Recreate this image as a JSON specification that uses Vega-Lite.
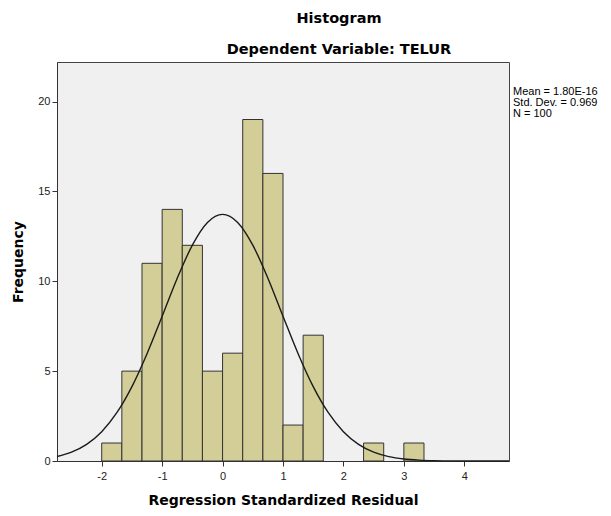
{
  "$schema": "https://vega.github.io/schema/vega-lite/v6.json",
  "width": 452,
  "height": 399,
  "autosize": "none",
  "padding": {"left": 57, "top": 62, "right": 102, "bottom": 55},
  "background": "white",
  "config": {
    "font": "Liberation Sans",
    "view": {"fill": "#f0f0f0", "stroke": "#444444", "strokeWidth": 1}
  },
  "title": {
    "text": ["Histogram", "Dependent Variable: TELUR"],
    "fontSize": 14.5,
    "fontWeight": "bold",
    "lineHeight": 31,
    "dx": 56,
    "offset": 4.5,
    "color": "#000000",
    "font": "DejaVu Sans"
  },
  "datasets": {
    "bars": [
      {"bin_start": -2.0, "bin_end": -1.6667, "count": 1},
      {"bin_start": -1.6667, "bin_end": -1.3333, "count": 5},
      {"bin_start": -1.3333, "bin_end": -1.0, "count": 11},
      {"bin_start": -1.0, "bin_end": -0.6667, "count": 14},
      {"bin_start": -0.6667, "bin_end": -0.3333, "count": 12},
      {"bin_start": -0.3333, "bin_end": 0.0, "count": 5},
      {"bin_start": 0.0, "bin_end": 0.3333, "count": 6},
      {"bin_start": 0.3333, "bin_end": 0.6667, "count": 19},
      {"bin_start": 0.6667, "bin_end": 1.0, "count": 16},
      {"bin_start": 1.0, "bin_end": 1.3333, "count": 2},
      {"bin_start": 1.3333, "bin_end": 1.6667, "count": 7},
      {"bin_start": 2.3333, "bin_end": 2.6667, "count": 1},
      {"bin_start": 3.0, "bin_end": 3.3333, "count": 1}
    ],
    "curve": [
      {"x": -2.74, "y": 0.252},
      {"x": -2.5, "y": 0.492},
      {"x": -2.25, "y": 0.926},
      {"x": -2.0, "y": 1.631},
      {"x": -1.75, "y": 2.686},
      {"x": -1.5, "y": 4.140},
      {"x": -1.25, "y": 5.971},
      {"x": -1.0, "y": 8.056},
      {"x": -0.75, "y": 10.169},
      {"x": -0.5, "y": 12.010},
      {"x": -0.25, "y": 13.271},
      {"x": 0.0, "y": 13.72},
      {"x": 0.25, "y": 13.271},
      {"x": 0.5, "y": 12.010},
      {"x": 0.75, "y": 10.169},
      {"x": 1.0, "y": 8.056},
      {"x": 1.25, "y": 5.971},
      {"x": 1.5, "y": 4.140},
      {"x": 1.75, "y": 2.686},
      {"x": 2.0, "y": 1.631},
      {"x": 2.25, "y": 0.926},
      {"x": 2.5, "y": 0.492},
      {"x": 2.75, "y": 0.245},
      {"x": 3.0, "y": 0.114},
      {"x": 3.25, "y": 0.050},
      {"x": 3.5, "y": 0.020},
      {"x": 3.75, "y": 0.008},
      {"x": 4.0, "y": 0.003},
      {"x": 4.25, "y": 0.001},
      {"x": 4.5, "y": 0.0003},
      {"x": 4.74, "y": 0.0001}
    ],
    "stats": [
      {"label": "Mean = 1.80E-16\nStd. Dev. = 0.969\nN = 100", "px": 4.74, "py": 20.55}
    ]
  },
  "layer": [
    {
      "data": {"name": "bars"},
      "mark": {"type": "rect", "fill": "#d3ce97", "stroke": "#333333", "strokeWidth": 1},
      "encoding": {
        "x": {
          "field": "bin_start",
          "type": "quantitative",
          "scale": {"domain": [-2.74, 4.74], "nice": false, "zero": false},
          "axis": {
            "values": [-2, -1, 0, 1, 2, 3, 4],
            "labelExpr": "'' + datum.value",
            "title": "Regression Standardized Residual",
            "titleFont": "DejaVu Sans",
            "titleFontSize": 14,
            "titleFontWeight": "bold",
            "titleColor": "#000000",
            "titlePadding": 12,
            "labelFontSize": 11,
            "labelColor": "#222222",
            "labelPadding": 4,
            "tickSize": 5,
            "tickColor": "#333333",
            "domainColor": "#333333",
            "grid": false
          }
        },
        "x2": {"field": "bin_end"},
        "y": {
          "field": "count",
          "type": "quantitative",
          "scale": {"domain": [0, 22.2], "nice": false},
          "axis": {
            "values": [0, 5, 10, 15, 20],
            "title": "Frequency",
            "titleFont": "DejaVu Sans",
            "titleFontSize": 14,
            "titleFontWeight": "bold",
            "titleColor": "#000000",
            "titlePadding": 12,
            "labelFontSize": 11,
            "labelColor": "#222222",
            "labelPadding": 2,
            "tickSize": 5,
            "tickColor": "#333333",
            "domainColor": "#333333",
            "grid": false
          }
        },
        "y2": {"datum": 0}
      }
    },
    {
      "data": {"name": "curve"},
      "mark": {"type": "line", "color": "#1a1a1a", "strokeWidth": 1.4, "interpolate": "monotone"},
      "encoding": {
        "x": {"field": "x", "type": "quantitative"},
        "y": {"field": "y", "type": "quantitative"}
      }
    },
    {
      "data": {"name": "stats"},
      "mark": {"type": "text", "align": "left", "baseline": "middle", "dx": 4, "fontSize": 11, "lineHeight": 11, "lineBreak": "\n", "color": "#000000"},
      "encoding": {
        "x": {"field": "px", "type": "quantitative"},
        "y": {"field": "py", "type": "quantitative"},
        "text": {"field": "label"}
      }
    }
  ]
}
